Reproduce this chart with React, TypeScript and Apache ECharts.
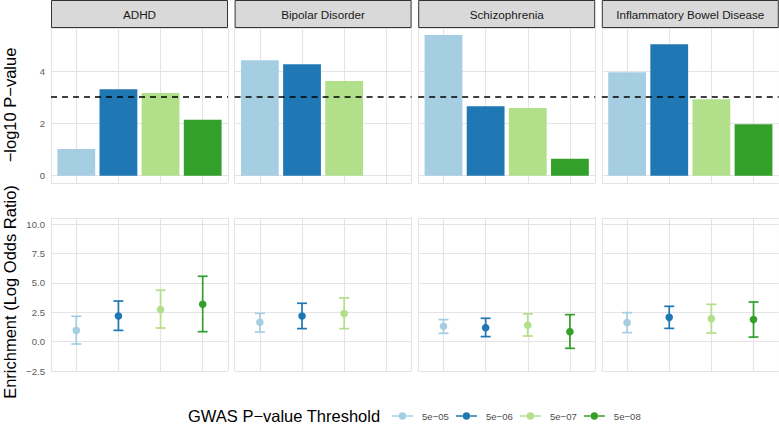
import React, { useEffect, useRef } from "react";
import * as echarts from "echarts";

const panels = ["ADHD", "Bipolar Disorder", "Schizophrenia", "Inflammatory Bowel Disease"];
const thresholds = ["5e\u221205", "5e\u221206", "5e\u221207", "5e\u221208"];
const colors = ["#A6CEE3", "#1F78B4", "#B2DF8A", "#33A02C"];
const xPositions = [1, 2, 3, 4];

// -log10 P-value per panel (thresholds in order)
const adhdP = [1.02, 3.3, 3.16, 2.14];
const bipolarP = [4.41, 4.26, 3.62, null];
const schizoP = [5.38, 2.65, 2.59, 0.65];
const ibdP = [3.95, 5.02, 2.92, 1.97];
const significance = 3;

// Enrichment (log odds ratio) estimate, lower, upper
const adhdOR = [0.96, 2.18, 2.73, 3.18];
const adhdLo = [-0.2, 0.96, 1.16, 0.85];
const adhdHi = [2.16, 3.46, 4.38, 5.57];
const bipolarOR = [1.65, 2.18, 2.39, null];
const bipolarLo = [0.82, 1.11, 1.11, null];
const bipolarHi = [2.41, 3.27, 3.72, null];
const schizoOR = [1.31, 1.19, 1.39, 0.85];
const schizoLo = [0.71, 0.43, 0.48, -0.57];
const schizoHi = [1.88, 1.99, 2.36, 2.3];
const ibdOR = [1.62, 2.07, 1.96, 1.88];
const ibdLo = [0.77, 1.13, 0.73, 0.39];
const ibdHi = [2.47, 3.01, 3.18, 3.38];

const topTicks = [0, 2, 4];
const bottomTicks = [-2.5, 0, 2.5, 5, 7.5, 10];

const pvals = [adhdP, bipolarP, schizoP, ibdP];
const ors = [adhdOR, bipolarOR, schizoOR, ibdOR];
const los = [adhdLo, bipolarLo, schizoLo, ibdLo];
const his = [adhdHi, bipolarHi, schizoHi, ibdHi];

const FONT = "'Liberation Sans', Arial, sans-serif";
const GRID_COLOR = "#E4E4E4";

export default function App() {
  const ref = useRef<HTMLDivElement>(null);
  useEffect(() => {
    if (!ref.current) return;
    const chart = echarts.init(ref.current, undefined, { renderer: "svg" });

    const lefts = [51, 234.6, 418.2, 601.8];
    const panelW = 177;
    const grids: any[] = [];
    const xAxes: any[] = [];
    const yAxes: any[] = [];
    const series: any[] = [];
    const graphics: any[] = [];

    const fmt = (ticks: number[]) => (v: number) => {
      const hit = ticks.find((t) => Math.abs(t - v) < 1e-6);
      if (hit === undefined) return "";
      const s = ticks === topTicks ? String(hit) : hit.toFixed(1);
      return s.replace("-", "\u2212");
    };

    panels.forEach((name, p) => {
      grids.push({ left: lefts[p], top: 28, width: panelW, height: 155 });
      grids.push({ left: lefts[p], top: 217.8, width: panelW, height: 153.2 });
      const gTop = p * 2;
      const gBot = p * 2 + 1;
      [gTop, gBot].forEach((g) => {
        xAxes.push({
          gridIndex: g,
          type: "value",
          min: 0.4,
          max: 4.6,
          splitNumber: 4,
          axisLine: { show: false },
          axisTick: { show: false },
          axisLabel: { show: false },
          splitLine: { show: true, lineStyle: { color: GRID_COLOR, width: 1.1 } },
        });
      });
      yAxes.push({
        gridIndex: gTop,
        type: "value",
        min: -0.279,
        max: 5.644,
        splitNumber: 3,
        axisLine: { show: false },
        axisTick: { show: false },
        axisLabel: {
          show: p === 0,
          formatter: fmt(topTicks),
          color: "#5A5A5A",
          fontSize: 9.6,
          fontFamily: FONT,
          margin: 6,
          showMinLabel: false,
          showMaxLabel: false,
        },
        splitLine: { show: true, lineStyle: { color: GRID_COLOR, width: 1.1 } },
      });
      yAxes.push({
        gridIndex: gBot,
        type: "value",
        min: -2.5,
        max: 10.55,
        interval: 2.5,
        axisLine: { show: false },
        axisTick: { show: false },
        axisLabel: {
          show: p === 0,
          formatter: fmt(bottomTicks),
          color: "#5A5A5A",
          fontSize: 9.6,
          fontFamily: FONT,
          margin: 6,
          showMinLabel: true,
          showMaxLabel: false,
        },
        splitLine: { show: true, lineStyle: { color: GRID_COLOR, width: 1.1 } },
      });

      const barData: any[] = [];
      pvals[p].forEach((v, i) => {
        if (v === null) return;
        barData.push({ value: [xPositions[i], v], itemStyle: { color: colors[i] } });
      });
      series.push({
        type: "bar",
        name: "pval-" + name,
        xAxisIndex: gTop,
        yAxisIndex: gTop,
        barWidth: 37.8,
        data: barData,
        silent: true,
        markLine: {
          silent: true,
          symbol: ["none", "none"],
          label: { show: false },
          lineStyle: { color: "#000", type: [6, 5], width: 1.6 },
          data: [{ yAxis: significance }],
        },
      });

      thresholds.forEach((t, i) => {
        const mid = ors[p][i];
        if (mid === null) return;
        const color = colors[i];
        series.push({
          type: "custom",
          name: t,
          xAxisIndex: gBot,
          yAxisIndex: gBot,
          itemStyle: { color },
          data: [[xPositions[i], mid, los[p][i], his[p][i]]],
          encode: { x: 0, y: [1, 2, 3] },
          renderItem: (_params: any, api: any) => {
            const x = api.value(0);
            const pMid = api.coord([x, api.value(1)]);
            const pLo = api.coord([x, api.value(2)]);
            const pHi = api.coord([x, api.value(3)]);
            const hw = 5;
            const st = { stroke: color, lineWidth: 1.7 };
            return {
              type: "group",
              children: [
                { type: "line", shape: { x1: pHi[0], y1: pHi[1], x2: pLo[0], y2: pLo[1] }, style: st },
                { type: "line", shape: { x1: pHi[0] - hw, y1: pHi[1], x2: pHi[0] + hw, y2: pHi[1] }, style: st },
                { type: "line", shape: { x1: pLo[0] - hw, y1: pLo[1], x2: pLo[0] + hw, y2: pLo[1] }, style: st },
                { type: "circle", shape: { cx: pMid[0], cy: pMid[1], r: 3.8 }, style: { fill: color } },
              ],
            };
          },
        });
      });

      graphics.push({
        type: "rect",
        shape: { x: lefts[p] + 0.5, y: 0.5, width: panelW - 1, height: 27 },
        style: { fill: "#D9D9D9", stroke: "#333333", lineWidth: 1 },
        silent: true,
      });
      graphics.push({
        type: "text",
        x: lefts[p] + panelW / 2,
        y: 14.5,
        style: {
          text: name,
          fill: "#1A1A1A",
          fontSize: 11.7,
          fontFamily: FONT,
          align: "center",
          verticalAlign: "middle",
        },
        silent: true,
      });
    });

    graphics.push({
      type: "text",
      x: 10,
      y: 105,
      rotation: Math.PI / 2,
      style: {
        text: "\u2212log10 P\u2212value",
        fill: "#000",
        fontSize: 16.5,
        fontFamily: FONT,
        align: "center",
        verticalAlign: "middle",
      },
      silent: true,
    });
    graphics.push({
      type: "text",
      x: 10,
      y: 292,
      rotation: Math.PI / 2,
      style: {
        text: "Enrichment (Log Odds Ratio)",
        fill: "#000",
        fontSize: 16.5,
        fontFamily: FONT,
        align: "center",
        verticalAlign: "middle",
      },
      silent: true,
    });
    graphics.push({
      type: "text",
      x: 188,
      y: 416,
      style: {
        text: "GWAS P\u2212value Threshold",
        fill: "#000",
        fontSize: 16.5,
        fontFamily: FONT,
        align: "left",
        verticalAlign: "middle",
      },
      silent: true,
    });

    const legendIcon =
      "path://M0,3.3 L7,3.3 L7,4.7 L0,4.7 Z M14,3.3 L21,3.3 L21,4.7 L14,4.7 Z M6.8,4 A3.7,3.7 0 1 0 14.2,4 A3.7,3.7 0 1 0 6.8,4 Z";

    chart.setOption({
      animation: false,
      backgroundColor: "#FFFFFF",
      grid: grids,
      xAxis: xAxes,
      yAxis: yAxes,
      series,
      graphic: graphics,
      legend: {
        data: thresholds,
        left: 392,
        top: 411,
        padding: 0,
        icon: legendIcon,
        itemWidth: 21,
        itemHeight: 8,
        itemGap: 7,
        selectedMode: false,
        textStyle: {
          color: "#4D4D4D",
          fontSize: 9.6,
          fontFamily: FONT,
          padding: [0, 0, 0, 4],
        },
      },
    });

    return () => chart.dispose();
  }, []);

  return (
    <div
      ref={ref}
      style={{ position: "fixed", left: 0, top: 0, width: 779, height: 425, background: "#fff" }}
    />
  );
}
